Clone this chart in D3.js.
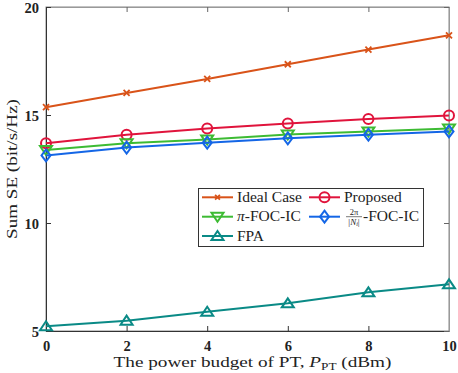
<!DOCTYPE html>
<html><head><meta charset="utf-8">
<script src="https://cdn.jsdelivr.net/npm/d3@7"></script>
<style>body{margin:0;background:#fff}svg{display:block}</style>
</head><body>
<svg id="c" width="458" height="373"></svg>
<script>
const xVals = [0, 2, 4, 6, 8, 10];
const idealCase = [15.36, 16.02, 16.67, 17.35, 18.03, 18.69];
const proposed = [13.69, 14.09, 14.37, 14.61, 14.81, 14.98];
const piFOC = [13.38, 13.69, 13.87, 14.10, 14.24, 14.38];
const twoPiFOC = [13.13, 13.49, 13.72, 13.92, 14.09, 14.24];
const fpa = [5.22, 5.48, 5.89, 6.28, 6.79, 7.16];
const xTicks = [0, 2, 4, 6, 8, 10];
const yTicks = [5, 10, 15, 20];

const series = [
  {name:"Ideal Case", vals: idealCase, color:"#D95319", marker:"x"},
  {name:"Proposed", vals: proposed, color:"#E0143C", marker:"o"},
  {name:"π-FOC-IC", vals: piFOC, color:"#3DBB33", marker:"v"},
  {name:"2π-FOC-IC", vals: twoPiFOC, color:"#1466E6", marker:"d"},
  {name:"FPA", vals: fpa, color:"#0A8A86", marker:"^"}
];

const svg = d3.select("#c");
const L = 46, R = 449, T = 7, B = 331;
const x = d3.scaleLinear().domain([0,10]).range([L,R]);
const y = d3.scaleLinear().domain([5,20]).range([B,T]);
const serif = "'Liberation Serif', 'Times New Roman', serif";

function stretch(g, t, target){
  const w = t.node().getComputedTextLength();
  const tr = g.attr("transform") || "";
  g.attr("transform", tr + ` scale(${target/w},1)`);
}

svg.append("rect").attr("x",L).attr("y",T).attr("width",R-L).attr("height",B-T)
  .attr("fill","none").attr("stroke","#888").attr("stroke-width",1);

const xa = svg.append("g").attr("transform",`translate(0,${B})`)
  .call(d3.axisBottom(x).tickValues(xTicks).tickSize(-5).tickPadding(10).tickFormat(d3.format("d")));
const xa2 = svg.append("g").attr("transform",`translate(0,${T})`)
  .call(d3.axisTop(x).tickValues(xTicks).tickSize(-5).tickFormat(""));
const ya = svg.append("g").attr("transform",`translate(${L},0)`)
  .call(d3.axisLeft(y).tickValues(yTicks).tickSize(-5).tickPadding(7).tickFormat(d3.format("d")));
const ya2 = svg.append("g").attr("transform",`translate(${R},0)`)
  .call(d3.axisRight(y).tickValues(yTicks).tickSize(-5).tickFormat(""));
[xa,ya].forEach(g=>{
  g.select(".domain").attr("stroke","#333");
  g.selectAll(".tick line").attr("stroke","#333");
  g.selectAll("text").attr("font-family",serif).attr("font-weight","bold").attr("font-size",14.5).attr("fill","#222");
});
[xa2,ya2].forEach(g=>{
  g.select(".domain").attr("stroke","#999");
  g.selectAll(".tick line").attr("stroke","#666");
});
ya.selectAll(".tick text").attr("dy","0.35em");

function drawMarker(g, m, cx, cy, color, s){
  s = s || 1;
  if(m==="x"){
    const r=3*s;
    g.append("path").attr("d",`M${cx-r},${cy-r}L${cx+r},${cy+r}M${cx-r},${cy+r}L${cx+r},${cy-r}`)
      .attr("stroke",color).attr("stroke-width",1.8).attr("fill","none");
  } else if(m==="o"){
    g.append("circle").attr("cx",cx).attr("cy",cy).attr("r",5).attr("fill","none").attr("stroke",color).attr("stroke-width",2);
  } else if(m==="v"){
    g.append("path").attr("d",`M${cx-6},${cy-4}L${cx+6},${cy-4}L${cx},${cy+5}Z`).attr("fill","none").attr("stroke",color).attr("stroke-width",2);
  } else if(m==="^"){
    g.append("path").attr("d",`M${cx-6},${cy+4}L${cx+6},${cy+4}L${cx},${cy-5}Z`).attr("fill","none").attr("stroke",color).attr("stroke-width",2);
  } else if(m==="d"){
    g.append("path").attr("d",`M${cx},${cy-6}L${cx+4.5},${cy}L${cx},${cy+6}L${cx-4.5},${cy}Z`).attr("fill","none").attr("stroke",color).attr("stroke-width",2);
  }
}

const line = d3.line().x((d,i)=>x(xVals[i])).y(d=>y(d));
const plot = svg.append("g");
series.forEach(s=>{
  plot.append("path").datum(s.vals).attr("d",line).attr("fill","none").attr("stroke",s.color).attr("stroke-width",2);
  s.vals.forEach((v,i)=>drawMarker(plot,s.marker,x(xVals[i]),y(v),s.color));
});

// legend
const lg = svg.append("g");
lg.append("rect").attr("x",198.5).attr("y",188.5).attr("width",225).attr("height",58)
  .attr("fill","#fff").attr("stroke","#333").attr("stroke-width",1);
const items = [
  {s:series[0], lx:202, ly:197.3},
  {s:series[1], lx:309, ly:197.3},
  {s:series[2], lx:202, ly:216.7},
  {s:series[3], lx:309, ly:216.7},
  {s:series[4], lx:202, ly:236}
];
const lfs = 15.5;
const probe = svg.append("text").attr("font-family",serif).attr("font-size",lfs).text("Ideal Case");
const lsx = 65 / probe.node().getComputedTextLength();
probe.remove();
items.forEach(it=>{
  const {s,lx,ly}=it;
  lg.append("line").attr("x1",lx).attr("x2",lx+31).attr("y1",ly).attr("y2",ly).attr("stroke",s.color).attr("stroke-width",2);
  drawMarker(lg,s.marker,lx+15.5,ly,s.color,0.8);
  let tx = lx+35;
  if(s.marker==="d"){
    const fx = lx+36;
    lg.append("text").attr("x",fx+9).attr("y",ly-2).attr("text-anchor","middle").attr("font-family",serif).attr("font-size",8.5).attr("fill","#222").text("2π");
    lg.append("line").attr("x1",fx+1).attr("x2",fx+17).attr("y1",ly).attr("y2",ly).attr("stroke","#222").attr("stroke-width",0.6);
    const bt = lg.append("text").attr("x",fx+9).attr("y",ly+8).attr("text-anchor","middle").attr("font-family",serif).attr("font-size",9).attr("fill","#222");
    bt.append("tspan").text("|");
    bt.append("tspan").attr("font-style","italic").text("N");
    bt.append("tspan").attr("font-style","italic").attr("font-size",6).attr("dy",1.5).text("i");
    bt.append("tspan").attr("dy",-1.5).text("|");
    tx = fx+18;
  }
  const tg = lg.append("g").attr("transform",`translate(${tx},${ly+4.5}) scale(${lsx},1)`);
  const t = tg.append("text").attr("x",0).attr("y",0).attr("font-family",serif).attr("font-size",lfs).attr("fill","#222");
  if(s.marker==="d"){
    t.text("-FOC-IC");
  } else if(s.marker==="v"){
    t.append("tspan").attr("font-style","italic").text("π");
    t.append("tspan").text("-FOC-IC");
  } else {
    t.text(s.name);
  }
});

// axis labels
const xg = svg.append("g").attr("transform",`translate(${(L+R)/2+5},367)`);
const xl = xg.append("text").attr("text-anchor","middle")
  .attr("font-family",serif).attr("font-size",14.5).attr("fill","#222");
xl.append("tspan").text("The power budget of PT, ");
xl.append("tspan").attr("font-style","italic").text("P");
xl.append("tspan").attr("font-size",10).attr("dy",3).text("PT");
xl.append("tspan").attr("dy",-3).text(" (dBm)");
stretch(xg, xl, 278);

const yg = svg.append("g").attr("transform",`translate(17,169) rotate(-90)`);
const yl = yg.append("text").attr("text-anchor","middle")
  .attr("font-family",serif).attr("font-size",15.5).attr("fill","#222").text("Sum SE (bit/s/Hz)");
stretch(yg, yl, 140);
</script>
</body></html>
